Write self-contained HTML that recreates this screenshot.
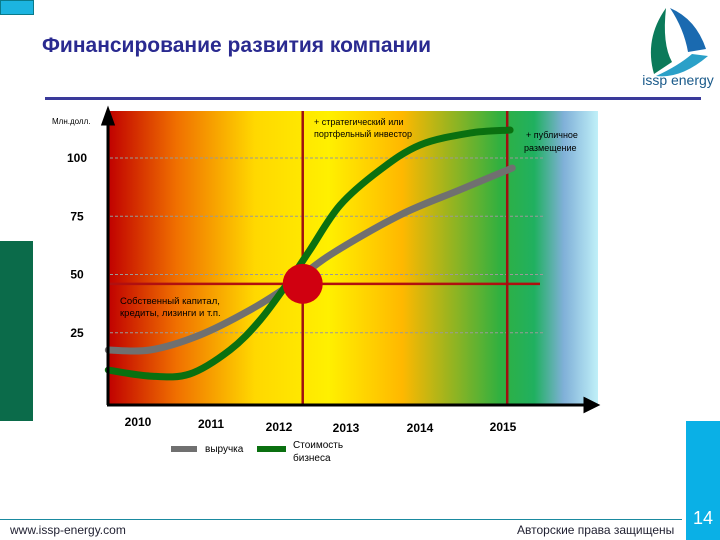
<!DOCTYPE html>
<html><head><meta charset="utf-8"><style>
body{margin:0;width:720px;height:540px;overflow:hidden;background:#fff;font-family:"Liberation Sans",sans-serif;position:relative}
.a{position:absolute}
</style></head><body>
<div class="a" style="left:0;top:0;width:32px;height:13px;background:#1cb4e0;border:1px solid #0a7a8a"></div>
<div class="a" style="left:0;top:241px;width:33px;height:180px;background:#0b6b4a"></div>
<div class="a" style="left:686px;top:421px;width:34px;height:119px;background:#0ab0e6"></div>
<div class="a" style="left:686px;top:508px;width:34px;text-align:center;color:#fff;font-size:18px">14</div>
<div class="a" style="left:42px;top:34px;color:#2a2a90;font-size:21px;font-weight:bold">Финансирование развития компании</div>
<div class="a" style="left:45px;top:97px;width:656px;height:3px;background:#3a3a9a"></div>
<svg class="a" style="left:636px;top:4px" width="84" height="84">
<path d="M30 4 Q8 35 18 70 L36 58 Q26 40 30 4Z" fill="#0b7a5a"/>
<path d="M34 4 Q60 15 70 45 L52 48 Q48 25 34 4Z" fill="#1a6ab0"/>
<path d="M20 72 Q45 75 72 52 L56 50 Q42 62 20 72Z" fill="#2aa0c8"/>
<text x="42" y="81" text-anchor="middle" font-size="14" fill="#1a5a8a" font-family="Liberation Sans">issp energy</text>
</svg>
<div class="a" style="left:0;top:519px;width:682px;height:1px;background:#1a8aa0"></div>
<div class="a" style="left:10px;top:523px;font-size:12px;color:#223">www.issp-energy.com</div>
<div class="a" style="left:517px;top:523px;font-size:12px;color:#223">Авторские права защищены</div>
<svg id="chart" class="a" style="left:0;top:0" width="720" height="540">
<defs><linearGradient id="bg" x1="0" x2="1" y1="0" y2="0">
<stop offset="0" stop-color="#c00000"/><stop offset="0.14" stop-color="#f07000"/><stop offset="0.3" stop-color="#ffd800"/><stop offset="0.45" stop-color="#fff000"/><stop offset="0.6" stop-color="#ffb800"/><stop offset="0.8" stop-color="#30b040"/><stop offset="0.87" stop-color="#20b060"/><stop offset="0.93" stop-color="#80b0d8"/><stop offset="1" stop-color="#c0f0f8"/></linearGradient></defs>
<rect x="108" y="111" width="490" height="294" fill="url(#bg)"/>
</svg>
<script>
const years=["2010","2011","2012","2013","2014","2015"];
const yearLabelOffsets=[0,0,0,0,0,0];
const yTicks=[100,75,50,25];
const revenueX=[2009.56,2010.14,2010.83,2011.53,2012.08,2012.64,2013.61,2014.44,2015.17];
const revenueY=[17.6,17.6,24,34.8,45.5,58.4,75.5,86.3,95.7];
const valueX=[2009.56,2010.14,2010.69,2011.25,2011.67,2012.08,2012.36,2012.78,2013.33,2013.89,2014.58,2015.14];
const valueY=[9,6.4,7.3,17.6,30.5,47.6,60.5,79.8,94.8,105.6,110.7,112];
const stageYears=[2012.26,2015.1];
const crossValue=46;
const X=y=>140+72*(y-2010), Y=v=>158+(100-v)*2.33;
const s=document.getElementById('chart'),NS='http://www.w3.org/2000/svg';
function mk(t,a,txt){const e=document.createElementNS(NS,t);for(const k in a)e.setAttribute(k,a[k]);if(txt)e.textContent=txt;s.appendChild(e);return e;}
yTicks.forEach(v=>{
 const l=mk('line',{x1:110,x2:545,y1:Y(v),y2:Y(v),stroke:'#999','stroke-dasharray':'3,2','stroke-width':1});
 
 
 const t=mk('text',{x:77,y:Y(v)+4,'text-anchor':'middle','font-size':12,'font-weight':'bold','font-family':'Liberation Sans'},String(v));
 
 
});
const hl=mk('line',{x1:108,x2:540,y1:Y(crossValue),y2:Y(crossValue),stroke:'#b01010','stroke-width':2.5});


stageYears.forEach((yr,i)=>{
 const l=mk('line',{x1:X(yr),x2:X(yr),y1:111,y2:405,stroke:'#a01010','stroke-width':2.5});
 
 
});
function path(xs,ys){const p=xs.map((x,i)=>[X(x),Y(ys[i])]);let d='M'+p[0];for(let i=0;i<p.length-1;i++){const a=p[i-1]||p[i],b=p[i],c=p[i+1],e=p[i+2]||c;d+=' C'+(b[0]+(c[0]-a[0])/6)+','+(b[1]+(c[1]-a[1])/6)+' '+(c[0]-(e[0]-b[0])/6)+','+(c[1]-(e[1]-b[1])/6)+' '+c;}return d;}
const g=mk('path',{d:path(revenueX,revenueY),fill:'none',stroke:'#707070','stroke-width':7,'stroke-linecap':'round'});


const gr=mk('path',{d:path(valueX,valueY),fill:'none',stroke:'#0a7010','stroke-width':7,'stroke-linecap':'round'});


const c=mk('circle',{cx:X(stageYears[0]),cy:Y(crossValue),r:20,fill:'#d00010'});


const ya=mk('path',{d:'M108,405 L108,118 M103,124 L108,110 L113,124Z',stroke:'#000','stroke-width':3,fill:'#000'});


const xa=mk('path',{d:'M107,405 L590,405 M585,399 L597,405 L585,411Z',stroke:'#000','stroke-width':3,fill:'#000'});


const lx=[138,211,279,346,420,503],ly=[426,428,431,432,432,431];
years.forEach((yr,i)=>{
 const t=mk('text',{x:lx[i],y:ly[i]+yearLabelOffsets[i],'text-anchor':'middle','font-size':12,'font-weight':'bold','font-family':'Liberation Sans'},yr);
 
 
});
const texts=[['y-axis-title',52,124,'Млн.долл.',8],['strategic-investor-note',314,125,'+ стратегический или',9],['strategic-investor-note-2',314,137,'портфельный инвестор',9],['ipo-note',526,138,'+ публичное',9],['ipo-note-2',524,151,'размещение',9],['equity-note',120,304,'Собственный капитал,',9.5],['equity-note-2',120,316,'кредиты, лизинги и т.п.',9.5],['legend-revenue-label',205,452,'выручка',10],['legend-value-label',293,448,'Стоимость',10],['legend-value-label-2',293,461,'бизнеса',10]];
texts.forEach(a=>{const t=mk('text',{x:a[1],y:a[2],'font-size':a[4],'font-family':'Liberation Sans'},a[3]);
 
 });
const r1=mk('rect',{x:171,y:446,width:26,height:6,fill:'#707070'});


const r2=mk('rect',{x:257,y:446,width:29,height:6,fill:'#0a7010'});


</script>
</body></html>
